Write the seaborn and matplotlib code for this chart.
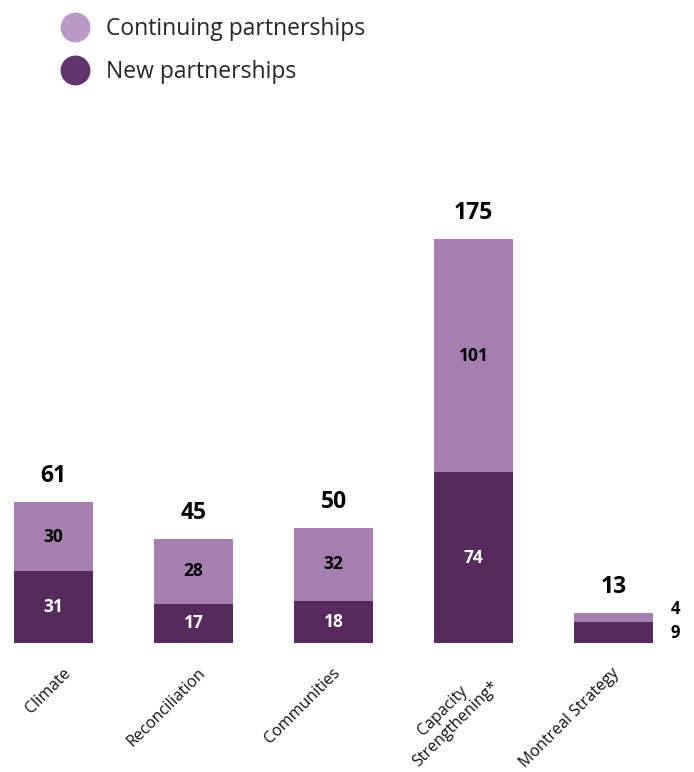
import matplotlib
matplotlib.use("Agg")
import matplotlib.pyplot as plt
import matplotlib.transforms as mtransforms
import seaborn as sns
import pandas as pd
from matplotlib.lines import Line2D

categories = ["Climate", "Reconciliation", "Communities", "Capacity\nStrengthening*", "Montreal Strategy"]
new_partnerships = [31, 17, 18, 74, 9]
continuing_partnerships = [30, 28, 32, 101, 4]
totals = [n + c for n, c in zip(new_partnerships, continuing_partnerships)]

light = "#A67FB1"
dark = "#552B5C"
legend_light = "#BB9BC6"
legend_dark = "#62346E"

sns.set_theme(style="white")
plt.rcParams["font.family"] = ["Open Sans", "DejaVu Sans"]

df = pd.DataFrame({"category": categories, "new": new_partnerships,
                   "continuing": continuing_partnerships, "total": totals})

fig = plt.figure(figsize=(6.94, 7.72), dpi=100)
ymax = 200
ax_h_px = ymax * 2.309
bottom_px = 643
left_units = -53.5 / 140
right_units = (694 - 53.5) / 140
ax = fig.add_axes([0, 1 - bottom_px / 772, 1, ax_h_px / 772])

bw = 79 / 140
sns.barplot(data=df, x="category", y="total", color=light, saturation=1, width=bw,
            linewidth=0, ax=ax)
sns.barplot(data=df, x="category", y="new", color=dark, saturation=1, width=bw,
            linewidth=0, ax=ax)

ax.set_xlim(left_units, right_units)
ax.set_ylim(0, ymax)
for s in ax.spines.values():
    s.set_visible(False)
ax.set_yticks([])
ax.set_xlabel("")
ax.set_ylabel("")
ax.tick_params(axis="x", length=0, pad=15.8)
ax.set_xticks(range(len(categories)))
ax.set_xticklabels(categories, rotation=45, ha="right", rotation_mode="anchor",
                   fontsize=11.5, color="#111111", multialignment="center")
label_shift_px = [9, 4, -1, 4, -2]
for lab, dx in zip(ax.get_xticklabels(), label_shift_px):
    lab.set_transform(lab.get_transform() +
                      mtransforms.ScaledTranslation(dx / 100, 0, fig.dpi_scale_trans))

for i, (n, c, t) in enumerate(zip(new_partnerships, continuing_partnerships, totals)):
    ax.annotate(str(t), (i, t), xytext=(0, 18.5), textcoords="offset points",
                ha="center", va="center", fontsize=16.5, fontweight="bold", color="black")
    if t > 20:
        ax.text(i, n + c / 2, str(c), ha="center", va="center", fontsize=12.5,
                fontweight="bold", color="black")
        ax.text(i, n / 2, str(n), ha="center", va="center", fontsize=12.5,
                fontweight="bold", color="white")
    else:
        ax.annotate(str(c), (i + bw / 2, n + c / 2), xytext=(16, 6), textcoords="offset points",
                    ha="center", va="center", fontsize=12, fontweight="bold", color="black")
        ax.annotate(str(n), (i + bw / 2, n / 2), xytext=(16, 0), textcoords="offset points",
                    ha="center", va="center", fontsize=12, fontweight="bold", color="black")

handles = [
    Line2D([0], [0], marker="o", linestyle="", markersize=20.5, markerfacecolor=legend_light,
           markeredgecolor=legend_light, label="Continuing partnerships"),
    Line2D([0], [0], marker="o", linestyle="", markersize=20.5, markerfacecolor=legend_dark,
           markeredgecolor=legend_dark, label="New partnerships"),
]
fig.legend(handles=handles, loc="upper left", bbox_to_anchor=(61 / 694, 1 - 17 / 772),
           frameon=False, fontsize=16.5, handlelength=1.2, handletextpad=0.77,
           labelspacing=0.82, borderpad=0, borderaxespad=0)

fig.savefig("out.png", dpi=100)
